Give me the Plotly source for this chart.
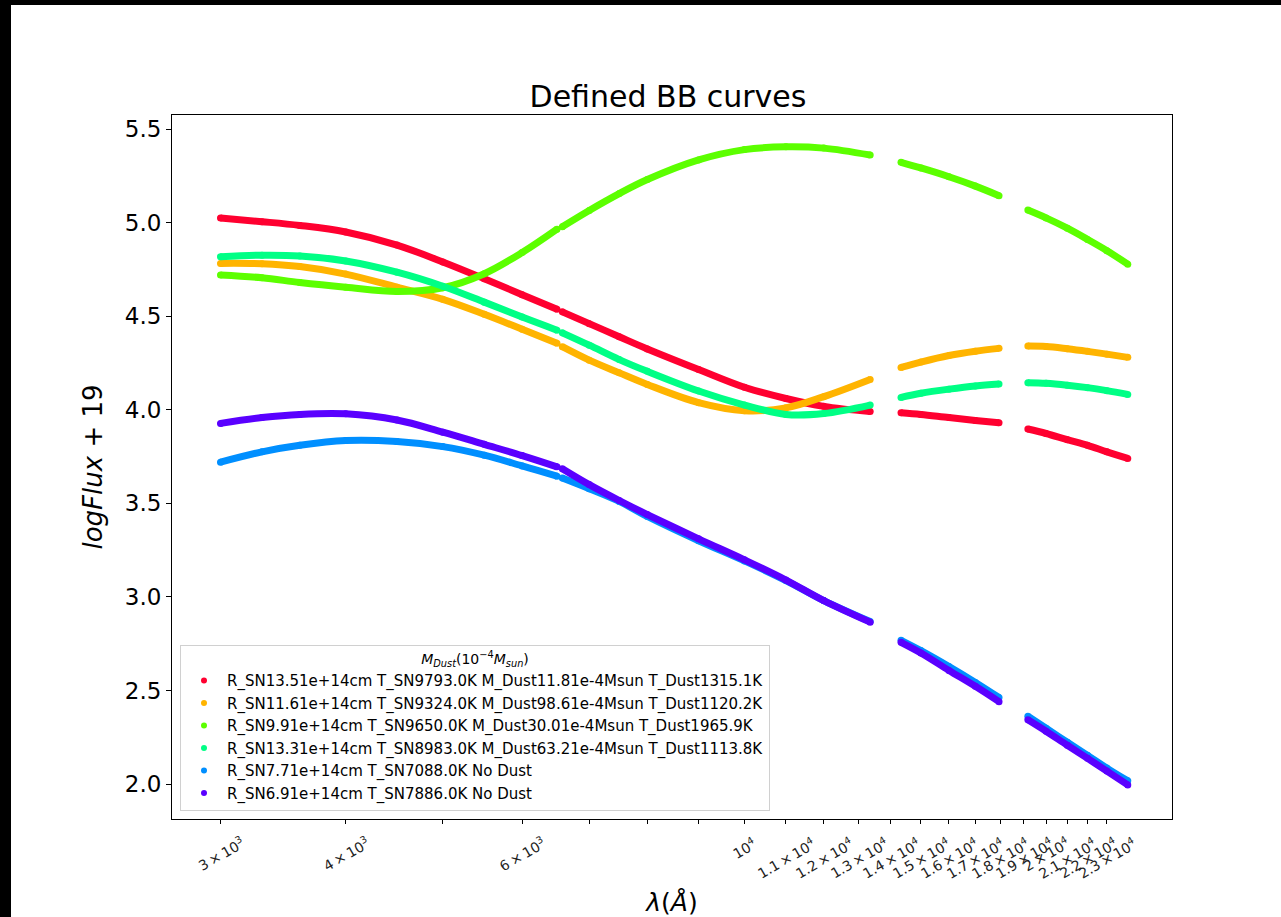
import math
import plotly.graph_objects as go

# wavelength samples (Angstrom); None separates the observed segments
WAVE = [3000, 3300, 3600, 4000, 4500, 5000, 5500, 6000, 6500, None,
        6580, 7000, 7500, 8000, 9000, 10000, 11000, 12000, 13350, None,
        14330, 15000, 16000, 17000, 17950, None,
        19180, 20000, 21000, 22000, 23000, 24130]

RED = [5.024, 5.005, 4.985, 4.95, 4.88, 4.79, 4.70, 4.615, 4.537, None,
       4.523, 4.46, 4.39, 4.325, 4.215, 4.12, 4.06, 4.018, 3.99, None,
       3.984, 3.975, 3.958, 3.943, 3.93, None,
       3.897, 3.873, 3.84, 3.81, 3.775, 3.74]
ORANGE = [4.782, 4.78, 4.765, 4.725, 4.655, 4.59, 4.51, 4.43, 4.355, None,
          4.337, 4.265, 4.197, 4.135, 4.038, 3.995, 4.01, 4.07, 4.162, None,
          4.226, 4.255, 4.29, 4.313, 4.328, None,
          4.34, 4.338, 4.326, 4.312, 4.297, 4.28]
GREEN = [4.72, 4.705, 4.68, 4.655, 4.632, 4.652, 4.727, 4.84, 4.965, None,
         4.978, 5.065, 5.155, 5.23, 5.335, 5.39, 5.405, 5.398, 5.361, None,
         5.322, 5.292, 5.245, 5.195, 5.144, None,
         5.067, 5.025, 4.97, 4.91, 4.85, 4.778]
TEAL = [4.818, 4.826, 4.822, 4.795, 4.735, 4.66, 4.575, 4.495, 4.425, None,
        4.411, 4.345, 4.268, 4.205, 4.10, 4.025, 3.975, 3.98, 4.025, None,
        4.066, 4.088, 4.11, 4.127, 4.137, None,
        4.144, 4.141, 4.131, 4.118, 4.102, 4.082]
BLUE = [3.72, 3.775, 3.81, 3.835, 3.83, 3.803, 3.757, 3.70, 3.645, None,
        3.635, 3.578, 3.51, 3.43, 3.30, 3.192, 3.087, 2.98, 2.868, None,
        2.768, 2.713, 2.628, 2.543, 2.462, None,
        2.362, 2.298, 2.223, 2.153, 2.085, 2.017]
PURPLE = [3.927, 3.958, 3.975, 3.978, 3.945, 3.88, 3.815, 3.755, 3.695, None,
          3.685, 3.60, 3.515, 3.44, 3.31, 3.198, 3.09, 2.98, 2.865, None,
          2.757, 2.70, 2.607, 2.522, 2.44, None,
          2.343, 2.282, 2.207, 2.137, 2.069, 1.995]

NAMES = [
    "R_SN13.51e+14cm T_SN9793.0K M_Dust11.81e-4Msun T_Dust1315.1K",
    "R_SN11.61e+14cm T_SN9324.0K M_Dust98.61e-4Msun T_Dust1120.2K",
    "R_SN9.91e+14cm T_SN9650.0K M_Dust30.01e-4Msun T_Dust1965.9K",
    "R_SN13.31e+14cm T_SN8983.0K M_Dust63.21e-4Msun T_Dust1113.8K",
    "R_SN7.71e+14cm T_SN7088.0K No Dust",
    "R_SN6.91e+14cm T_SN7886.0K No Dust",
]
SERIES = [RED, ORANGE, GREEN, TEAL, BLUE, PURPLE]
COLORS = ["#ff0030", "#ffb400", "#5cff00", "#00ff85", "#008fff", "#5a00ff"]

# x ticks: all tick positions, and the labelled subset
TICK_VALS = [3000, 4000, 5000, 6000, 7000, 8000, 9000, 10000, 11000, 12000,
             13000, 14000, 15000, 16000, 17000, 18000, 19000, 20000, 21000,
             22000, 23000]
LABEL_VALS = [3000, 4000, 6000, 10000, 11000, 12000, 13000, 14000, 15000, 16000,
              17000, 18000, 19000, 20000, 21000, 22000, 23000]
LABEL_TEXT = ["3\u2009×\u200910<sup>3</sup>", "4\u2009×\u200910<sup>3</sup>",
              "6\u2009×\u200910<sup>3</sup>", "10<sup>4</sup>",
              "1.1\u2009×\u200910<sup>4</sup>", "1.2\u2009×\u200910<sup>4</sup>",
              "1.3\u2009×\u200910<sup>4</sup>", "1.4\u2009×\u200910<sup>4</sup>",
              "1.5\u2009×\u200910<sup>4</sup>", "1.6\u2009×\u200910<sup>4</sup>",
              "1.7\u2009×\u200910<sup>4</sup>", "1.8\u2009×\u200910<sup>4</sup>",
              "1.9\u2009×\u200910<sup>4</sup>", "2\u2009×\u200910<sup>4</sup>",
              "2.1\u2009×\u200910<sup>4</sup>", "2.2\u2009×\u200910<sup>4</sup>",
              "2.3\u2009×\u200910<sup>4</sup>"]
Y_TICKS = [2.0, 2.5, 3.0, 3.5, 4.0, 4.5, 5.0, 5.5]

FONT = "DejaVu Sans"

fig = go.Figure()
for name, ys, col in zip(NAMES, SERIES, COLORS):
    fig.add_trace(go.Scatter(
        x=WAVE, y=ys, mode="lines+markers", line=dict(color=col, width=7, shape="spline"),
        marker=dict(color=col, size=7), showlegend=False, hoverinfo="skip",
        legendgroup=name))
    # legend entry: a single dot (matplotlib style), placed on the curve's first sample
    fig.add_trace(go.Scatter(x=WAVE[:1], y=ys[:1], mode="markers", name=name,
                             legendgroup=name, hoverinfo="skip",
                             marker=dict(color=col, size=6)))

L, R, T, B = 172, 1172, 115, 819
W, H = 1281, 917
pw, ph = R - L, B - T

annotations = [
    dict(x=math.log10(v), y=-12 / ph, xref="x", yref="paper", text=t, showarrow=False,
         textangle=-30, xanchor="center", yanchor="top",
         font=dict(size=14, family=FONT, color="#222"))
    for v, t in zip(LABEL_VALS, LABEL_TEXT)
]

fig.update_layout(
    width=W, height=H,
    margin=dict(l=L, r=W - R, t=T, b=H - B, pad=0),
    paper_bgcolor="black", plot_bgcolor="white",
    font=dict(family=FONT, color="black"),
    title=dict(text="Defined BB curves", x=668 / W, xanchor="center",
               y=1 - 96 / H, yanchor="middle", font=dict(size=30, family=FONT)),
    shapes=[dict(type="rect", xref="paper", yref="paper", layer="below",
                 x0=(11 - L) / pw, x1=(W + 20 - L) / pw,
                 y0=(B - H - 20) / ph, y1=(B - 5) / ph,
                 fillcolor="white", line=dict(width=0))],
    annotations=annotations,
    legend=dict(x=8 / pw, y=(B - 811) / ph, xanchor="left", yanchor="bottom",
                bgcolor="rgba(255,255,255,0.8)", bordercolor="#d0d0d0", borderwidth=1,
                font=dict(size=15, family=FONT), itemwidth=36,
                title=dict(text="<i>M</i><sub><i>Dust</i></sub>(10<sup>−4</sup><i>M</i><sub><i>sun</i></sub>)",
                           side="top center", font=dict(size=14, family=FONT)),
                tracegroupgap=0),
)
fig.update_xaxes(type="log", range=[3.4287, 4.4267], tickvals=TICK_VALS, showticklabels=False,
                 ticks="outside", ticklen=4, tickcolor="black", automargin=False,
                 showline=True, linecolor="black", linewidth=1, mirror=True,
                 showgrid=False, zeroline=False,
                 title=dict(text="<i>λ</i>(<i>Å</i>)", font=dict(size=25, family=FONT), standoff=70))
fig.update_yaxes(range=[1.813, 5.575], tickvals=Y_TICKS,
                 ticktext=["%.1f" % v for v in Y_TICKS],
                 tickfont=dict(size=23, family=FONT), automargin=False,
                 ticks="outside", ticklen=5, tickcolor="black",
                 showline=True, linecolor="black", linewidth=1, mirror=True,
                 showgrid=False, zeroline=False,
                 title=dict(text="<i>logFlux</i> + 19", font=dict(size=26, family=FONT), standoff=14))

fig.write_html("out.html")
